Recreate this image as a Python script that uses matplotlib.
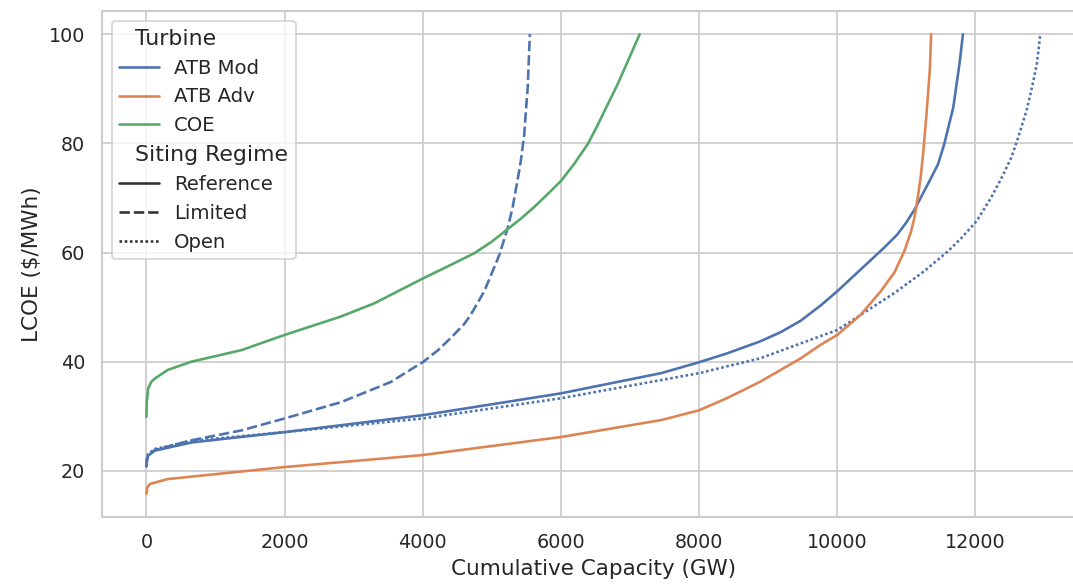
import matplotlib
matplotlib.use("Agg")
import matplotlib.pyplot as plt
import pandas as pd
import seaborn as sns
from matplotlib.offsetbox import VPacker

# supply curves, capacity in GW and LCOE in $/MWh
mod_ref_cap = [0, 8, 25, 120, 650, 2000, 4000, 6000, 7450, 8000, 8400, 8880, 9180,
               9470, 9760, 10000, 10340, 10680, 10870, 11000, 11120, 11360, 11460,
               11550, 11680, 11770, 11820]
mod_ref_lcoe = [20.8, 22.0, 22.8, 23.7, 25.2, 27.1, 30.2, 34.2, 37.9, 39.9, 41.5, 43.7,
                45.4, 47.5, 50.3, 52.9, 56.9, 60.9, 63.3, 65.5, 67.9, 73.7, 76.2,
                79.9, 86.6, 94.6, 100]

mod_lim_cap = [0, 8, 25, 120, 650, 1370, 2000, 2820, 3540, 3780, 4010, 4220, 4410,
               4600, 4680, 4750, 4890, 4990, 5110, 5230, 5300, 5370, 5420, 5470,
               5490, 5520, 5550]
mod_lim_lcoe = [20.8, 22.1, 22.9, 23.8, 25.6, 27.4, 29.6, 32.6, 36.3, 38.2, 40.0, 42.1,
                44.4, 46.9, 48.3, 49.8, 52.9, 55.9, 59.6, 64.5, 68.2, 73.1, 76.8,
                81.7, 85.4, 90.3, 100]

mod_open_cap = [0, 8, 25, 120, 650, 2000, 4000, 6000, 8000, 8880, 10000, 10830, 11260,
                11600, 11800, 12020, 12230, 12380, 12520, 12620, 12740, 12820, 12890,
                12940]
mod_open_lcoe = [20.8, 22.2, 23.1, 24.0, 25.5, 27.1, 29.6, 33.3, 37.9, 40.6, 45.8, 52.6,
                 56.6, 60.2, 62.7, 65.8, 70.1, 73.7, 77.4, 81.1, 86.0, 90.3, 94.6,
                 100]

adv_ref_cap = [0, 10, 50, 310, 2000, 4000, 6000, 7450, 8000, 8400, 8880, 9470, 9760,
               10000, 10340, 10630, 10830, 10970, 11070, 11120, 11180, 11210, 11250,
               11290, 11340, 11360]
adv_ref_lcoe = [15.8, 16.9, 17.6, 18.5, 20.7, 22.9, 26.2, 29.3, 31.1, 33.3, 36.3, 40.6,
                43.1, 44.9, 48.6, 52.9, 56.4, 60.2, 63.9, 66.5, 71.3, 74.0, 79.0,
                85.0, 93.4, 100]

coe_ref_cap = [0, 5, 25, 70, 120, 310, 650, 1370, 2000, 2820, 3300, 4010, 4400, 4750,
               5000, 5230, 5420, 5610, 5800, 6000, 6190, 6390, 6530, 6680, 6820, 6960,
               7140]
coe_ref_lcoe = [29.9, 32.6, 35.1, 36.3, 36.9, 38.5, 40.0, 42.1, 44.9, 48.3, 50.7, 55.3,
                57.7, 59.9, 62.0, 64.3, 66.2, 68.3, 70.6, 73.1, 76.2, 79.9, 83.3, 87.2,
                90.8, 94.8, 100]

turbines = ["ATB Mod", "ATB Adv", "COE"]
regimes = ["Reference", "Limited", "Open"]

curves = [
    ("ATB Mod", "Reference", mod_ref_cap, mod_ref_lcoe),
    ("ATB Mod", "Limited", mod_lim_cap, mod_lim_lcoe),
    ("ATB Mod", "Open", mod_open_cap, mod_open_lcoe),
    ("ATB Adv", "Reference", adv_ref_cap, adv_ref_lcoe),
    ("COE", "Reference", coe_ref_cap, coe_ref_lcoe),
]

frames = []
for turbine, regime, cap, lcoe in curves:
    frames.append(pd.DataFrame({"Turbine": turbine, "Siting Regime": regime,
                                "capacity": cap, "lcoe": lcoe}))
df = pd.concat(frames, ignore_index=True)

sns.set_theme(style="whitegrid",
              rc={"legend.fontsize": 11.3, "legend.title_fontsize": 12.7,
                  "axes.labelsize": 12.4})

fig = plt.figure(figsize=(1073 / 125, 584 / 125), dpi=125)
# the reference is cropped on the right, so the axes run past the figure edge
ax = fig.add_axes([0.0948, 0.1151, 0.9164, 0.8657])

sns.lineplot(data=df, x="capacity", y="lcoe", hue="Turbine", style="Siting Regime",
             hue_order=turbines, style_order=regimes, estimator=None, ax=ax)

ax.set_xlabel("Cumulative Capacity (GW)")
ax.set_ylabel(r"LCOE (\$/MWh)")

# make the two group headers in the legend look like titles
leg = ax.get_legend()
leg.set_loc("upper left")
title_size = plt.rcParams["legend.title_fontsize"]
for hpack in leg.findobj(VPacker)[0].get_children():
    draw_area, text_area = hpack.get_children()
    for text in text_area.get_children():
        if text.get_text() in ("Turbine", "Siting Regime"):
            draw_area.set_width(0)
            text.set_size(title_size)

fig.savefig("out.png", dpi=125)
